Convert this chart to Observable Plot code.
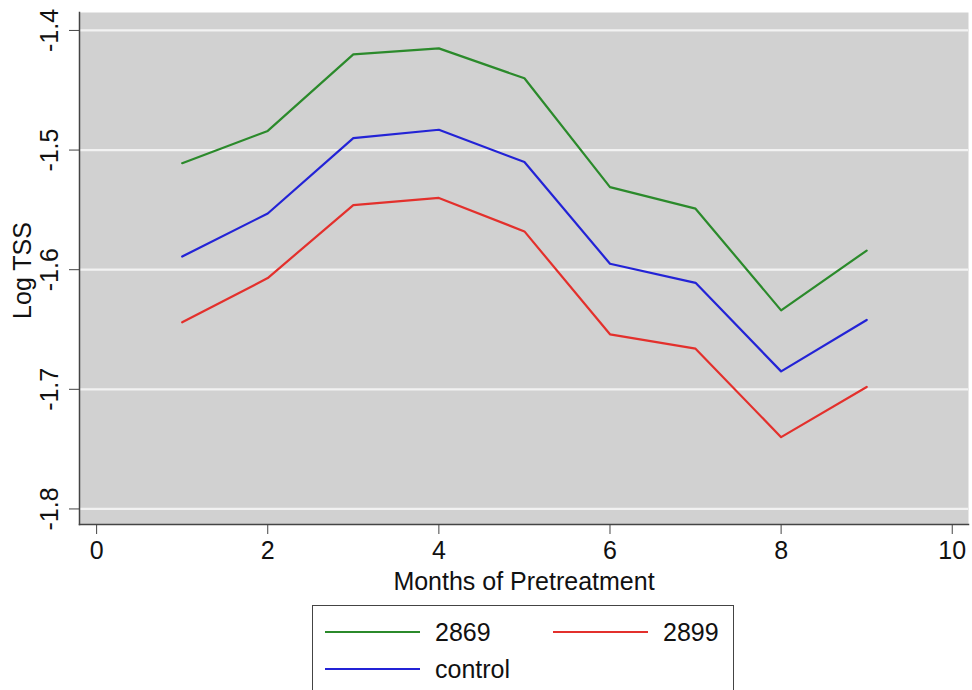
<!DOCTYPE html>
<html>
<head>
<meta charset="utf-8">
<script src="https://cdn.jsdelivr.net/npm/d3@7"></script>
<script src="https://cdn.jsdelivr.net/npm/@observablehq/plot@0.6"></script>
<style>
  body { margin: 0; background: #fff; font-family: "Liberation Sans", Arial, Helvetica, sans-serif; }
  #wrap { position: relative; width: 972px; height: 690px; overflow: hidden; }
  #legend { position: absolute; left: 312px; top: 605px; width: 422px; height: 100px; border: 1.5px solid #444; box-sizing: border-box; background: #fff; }
  .item { position: absolute; display: flex; align-items: center; font-size: 25px; color: #111; }
  .sw { width: 95px; height: 2px; margin-right: 15px; }
</style>
</head>
<body>
<div id="wrap">
  <div id="chart"></div>
  <div id="legend"></div>
</div>
<script>
const months = [1, 2, 3, 4, 5, 6, 7, 8, 9];
const s2869 = [-1.511, -1.484, -1.420, -1.415, -1.440, -1.531, -1.549, -1.634, -1.584];
const sControl = [-1.589, -1.553, -1.490, -1.483, -1.510, -1.595, -1.611, -1.685, -1.642];
const s2899 = [-1.644, -1.607, -1.546, -1.540, -1.568, -1.654, -1.666, -1.740, -1.698];
const seriesNames = ["2869", "2899", "control"];
const seriesColors = ["#2b8a2b", "#e3302c", "#2323d6"];
const xTicks = [0, 2, 4, 6, 8, 10];
const yTicks = [-1.4, -1.5, -1.6, -1.7, -1.8];
const xLabel = "Months of Pretreatment";
const yLabel = "Log TSS";

const seriesValues = [s2869, s2899, sControl];
const rows = [];
seriesNames.forEach((name, i) => {
  months.forEach((m, j) => rows.push({series: name, month: m, value: seriesValues[i][j]}));
});

const fs = 25;
const chart = Plot.plot({
  width: 972,
  height: 600,
  marginLeft: 79,
  marginRight: 4,
  marginTop: 12,
  marginBottom: 76,
  style: {fontFamily: '"Liberation Sans", Arial, Helvetica, sans-serif', fontSize: fs + "px", color: "#111", background: "#fff"},
  x: {domain: [-0.2, 10.19], label: null},
  y: {domain: [-1.813, -1.385], label: null},
  color: {domain: seriesNames, range: seriesColors},
  marks: [
    Plot.frame({fill: "#d1d1d1", stroke: null}),
    Plot.gridY({ticks: yTicks, stroke: "#f2f2f2", strokeOpacity: 1, strokeWidth: 2.2}),
    Plot.frame({anchor: "left", stroke: "#444", strokeWidth: 1.5}),
    Plot.frame({anchor: "bottom", stroke: "#444", strokeWidth: 1.5}),
    Plot.axisY({ticks: yTicks, tickSize: 10, tickFormat: () => "", stroke: "#444"}),
    Plot.text(yTicks, {y: d => d, frameAnchor: "left", dx: -30, rotate: -90, textAnchor: "middle", lineAnchor: "middle", text: d => d.toFixed(1), fontSize: fs, fill: "#111"}),
    Plot.axisX({ticks: xTicks, tickSize: 10, tickPadding: 7, fontSize: fs, stroke: "#444", fill: "#111"}),
    Plot.text([xLabel], {text: d => d, frameAnchor: "bottom", dy: 57, lineAnchor: "middle", fontSize: fs, fill: "#111"}),
    Plot.text([yLabel], {text: d => d, frameAnchor: "left", dx: -57, dy: 2, rotate: -90, textAnchor: "middle", lineAnchor: "middle", fontSize: fs, fill: "#111"}),
    Plot.line(rows, {x: "month", y: "value", z: "series", stroke: "series", strokeWidth: 2.2})
  ]
});
document.getElementById("chart").appendChild(chart);

const legend = document.getElementById("legend");
const pos = [[12, 26], [240, 26], [12, 63]];
seriesNames.forEach((name, i) => {
  const item = document.createElement("div");
  item.className = "item";
  item.style.left = pos[i][0] + "px";
  item.style.top = (pos[i][1] - 15) + "px";
  item.style.height = "30px";
  const sw = document.createElement("div");
  sw.className = "sw";
  sw.style.background = seriesColors[i];
  item.appendChild(sw);
  const t = document.createElement("span");
  t.textContent = name;
  item.appendChild(t);
  legend.appendChild(item);
});
</script>
</body>
</html>
